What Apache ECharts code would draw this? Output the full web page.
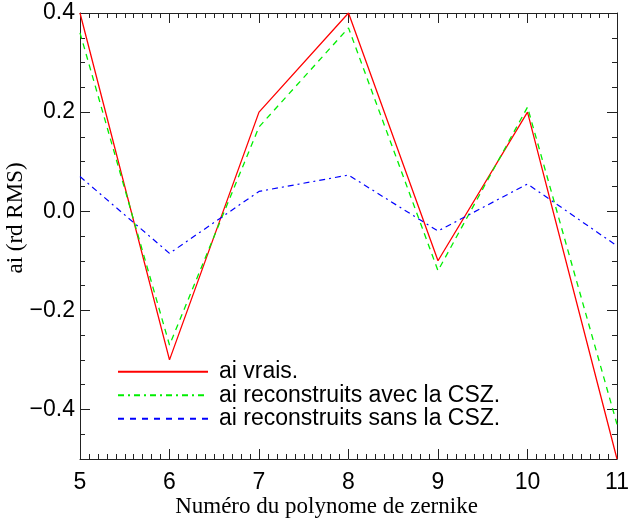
<!DOCTYPE html>
<html>
<head>
<meta charset="utf-8">
<script src="https://cdn.jsdelivr.net/npm/echarts@6/dist/echarts.min.js"></script>
<style>
  html, body { margin: 0; padding: 0; background: #fff; }
  #chart { width: 631px; height: 524px; }
</style>
</head>
<body>
<div id="chart"></div>
<script>
// données
var zernike = [5, 6, 7, 8, 9, 10, 11];
var aiVrais = [0.40, -0.30, 0.20, 0.40, -0.10, 0.20, -0.50];
var aiAvecCSZ = [0.36, -0.27, 0.17, 0.37, -0.12, 0.21, -0.43];
var aiSansCSZ = [0.07, -0.085, 0.04, 0.073, -0.04, 0.055, -0.07];
var yTicks = [-0.4, -0.2, 0.0, 0.2, 0.4];
var yMinorTicks = [-0.5, -0.45, -0.4, -0.35, -0.3, -0.25, -0.2, -0.15, -0.1, -0.05, 0,
                   0.05, 0.1, 0.15, 0.2, 0.25, 0.3, 0.35, 0.4];
var names = ['ai vrais.', 'ai reconstruits avec la CSZ.', 'ai reconstruits sans la CSZ.'];

function pairs(ys) {
    return zernike.map(function (x, i) { return [x, ys[i]]; });
}

var sans = 'Liberation Sans';
var serif = 'Liberation Serif';
var axisColor = '#222';

function xAxisDef(pos, withLabels) {
    return {
        type: 'value',
        position: pos,
        min: 5,
        max: 11,
        interval: 1,
        name: withLabels ? 'Numéro du polynome de zernike' : '',
        nameLocation: 'middle',
        nameGap: 36,
        nameMoveOverlap: false,
        nameTextStyle: { fontFamily: serif, fontSize: 23, color: '#000', padding: [0, 44, 0, 0] },
        axisLine: { show: true, onZero: false, lineStyle: { color: axisColor, width: 1 } },
        axisTick: { show: true, inside: true, length: 10, lineStyle: { color: axisColor } },
        minorTick: { show: true, splitNumber: 10, length: 5, lineStyle: { color: axisColor } },
        axisLabel: { show: withLabels, margin: 12, fontFamily: sans, fontSize: 23, color: '#000' },
        splitLine: { show: false },
        minorSplitLine: { show: false }
    };
}

function yAxisDef(pos, major, withLabels) {
    return {
        type: 'value',
        position: pos,
        offset: 0,
        min: -0.5,
        max: 0.4,
        name: withLabels ? 'ai (rd RMS)' : '',
        nameLocation: 'middle',
        nameGap: 53,
        nameMoveOverlap: false,
        nameTextStyle: { fontFamily: serif, fontSize: 23, color: '#000', padding: [0, 0, 0, 36] },
        axisLine: { show: major, onZero: false, lineStyle: { color: axisColor, width: 1 } },
        axisTick: {
            show: true, inside: true, length: major ? 10 : 5,
            customValues: major ? yTicks : yMinorTicks,
            lineStyle: { color: axisColor }
        },
        axisLabel: {
            show: withLabels,
            customValues: yTicks,
            margin: 5,
            fontFamily: sans,
            fontSize: 23,
            color: '#000',
            formatter: function (v) { return v.toFixed(1).replace('-', '\u2212'); }
        },
        splitLine: { show: false }
    };
}

var chart = echarts.init(document.getElementById('chart'));
chart.setOption({
    backgroundColor: '#fff',
    animation: false,
    grid: { left: 80, right: 14, top: 13, bottom: 65, containLabel: false, outerBoundsMode: 'none' },
    legend: {
        orient: 'vertical',
        left: 112,
        top: 355,
        itemWidth: 90,
        itemHeight: 14,
        itemGap: 0,
        itemStyle: { opacity: 0 },
        textStyle: { fontFamily: sans, fontSize: 23, color: '#000', lineHeight: 23.5, padding: [0, 0, 0, 6] },
        data: [
            { name: names[0], lineStyle: { type: 'solid' } },
            { name: names[1], lineStyle: { type: [6, 4, 2, 4] } },
            { name: names[2], lineStyle: { type: [6, 6] } }
        ]
    },
    xAxis: [xAxisDef('bottom', true), xAxisDef('top', false)],
    yAxis: [
        yAxisDef('left', true, true),
        yAxisDef('left', false, false),
        yAxisDef('right', true, false),
        yAxisDef('right', false, false)
    ],
    series: [
        {
            name: names[0], type: 'line', symbol: 'none',
            lineStyle: { color: '#ff0000', width: 1.3, type: 'solid' },
            itemStyle: { color: '#ff0000' },
            data: pairs(aiVrais)
        },
        {
            name: names[1], type: 'line', symbol: 'none',
            lineStyle: { color: '#00ee00', width: 1.3, type: [6, 5] },
            itemStyle: { color: '#00ee00' },
            data: pairs(aiAvecCSZ)
        },
        {
            name: names[2], type: 'line', symbol: 'none',
            lineStyle: { color: '#0000ff', width: 1.2, type: [6, 4, 2, 4] },
            itemStyle: { color: '#0000ff' },
            data: pairs(aiSansCSZ)
        }
    ]
});
window.addEventListener('resize', function () { chart.resize(); });
</script>
</body>
</html>
